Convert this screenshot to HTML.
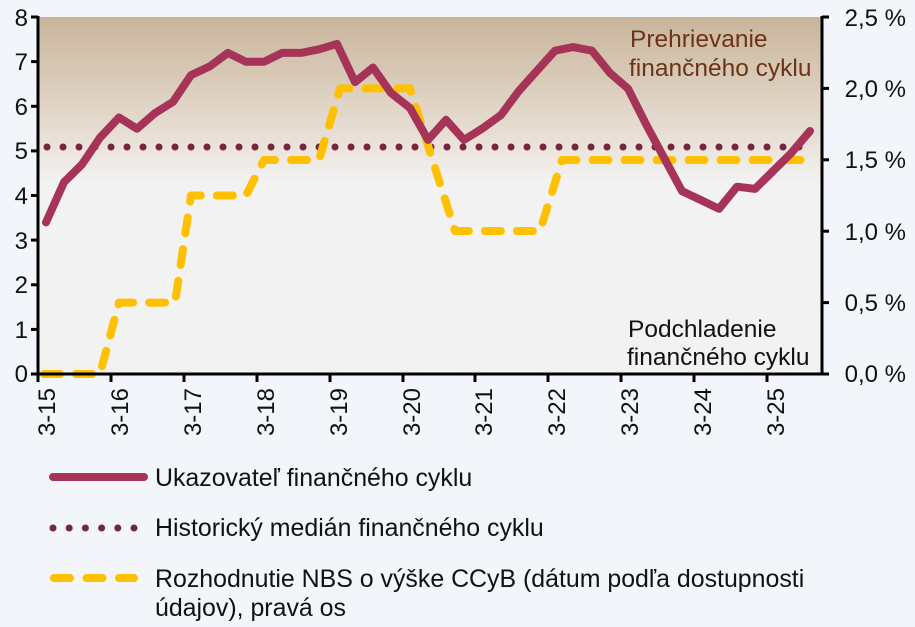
<!DOCTYPE html>
<html><head><meta charset="utf-8"><style>
html,body{margin:0;padding:0;background:#f2f6fa;}
svg{display:block;font-family:"Liberation Sans",Arial,sans-serif;}
</style></head><body>
<svg width="915" height="627" viewBox="0 0 915 627" xmlns="http://www.w3.org/2000/svg">
<defs>
<linearGradient id="bg" x1="0" y1="0" x2="0" y2="1">
<stop offset="0" stop-color="#c9b49a"/>
<stop offset="0.37" stop-color="#ebe4db"/>
<stop offset="0.46" stop-color="#f2f2f2"/>
<stop offset="1" stop-color="#f2f2f2"/>
</linearGradient>
</defs>
<rect x="38" y="17" width="784" height="357" fill="url(#bg)"/>
<line x1="47" y1="147" x2="815" y2="147" stroke="#77243e" stroke-width="7" stroke-linecap="round" stroke-dasharray="0 16"/>
<polyline fill="none" stroke="#ffc000" stroke-width="8" stroke-linecap="round" stroke-linejoin="round" stroke-dasharray="16 16"
points="44,374 100,374 119,302.6 175,302.6 191,195.5 246,195.5 264,160 319,160 340,88.4 410,88.4 455,231 540,231 562,160 813,160"/>
<polyline fill="none" stroke="#a63458" stroke-width="8" stroke-linejoin="round" stroke-linecap="round"
points="46,222.4 64,182.2 82,164.4 100,137.6 119,117.5 137,128.7 155,113.1 173,101.9 191,75.1 210,66.2 228,52.9 246,61.8 264,61.8 282,52.9 301,52.9 319,49.3 337,43.9 355,82.1 373,67.5 391,93 410,108 428,139.9 446,119.8 464,139.9 482,128.7 501,115 519,90.8 537,70.7 555,50.7 573,47.1 592,50.7 610,73 628,88.6 646,124.2 664,157.7 682,191.1 701,200.1 719,208.8 737,186.7 755,188.9 773,171.1 791,153.3 810,131"/>
<g stroke="#000" stroke-width="3" fill="none">
<line x1="38" y1="16" x2="38" y2="375"/>
<line x1="822" y1="16" x2="822" y2="375"/>
<line x1="31" y1="374" x2="829" y2="374"/>
<line x1="31" y1="17" x2="38" y2="17"/><line x1="31" y1="61.6" x2="38" y2="61.6"/><line x1="31" y1="106.3" x2="38" y2="106.3"/><line x1="31" y1="150.9" x2="38" y2="150.9"/><line x1="31" y1="195.5" x2="38" y2="195.5"/><line x1="31" y1="240.1" x2="38" y2="240.1"/><line x1="31" y1="284.8" x2="38" y2="284.8"/><line x1="31" y1="329.4" x2="38" y2="329.4"/>
<line x1="822" y1="17" x2="829" y2="17"/><line x1="822" y1="88.4" x2="829" y2="88.4"/><line x1="822" y1="159.8" x2="829" y2="159.8"/><line x1="822" y1="231.2" x2="829" y2="231.2"/><line x1="822" y1="302.6" x2="829" y2="302.6"/>
<line x1="38" y1="374" x2="38" y2="382"/><line x1="111" y1="374" x2="111" y2="382"/><line x1="184" y1="374" x2="184" y2="382"/><line x1="257" y1="374" x2="257" y2="382"/><line x1="330" y1="374" x2="330" y2="382"/><line x1="403" y1="374" x2="403" y2="382"/><line x1="475" y1="374" x2="475" y2="382"/><line x1="548" y1="374" x2="548" y2="382"/><line x1="621" y1="374" x2="621" y2="382"/><line x1="694" y1="374" x2="694" y2="382"/><line x1="767" y1="374" x2="767" y2="382"/>
</g>
<g font-size="24" fill="#111" text-anchor="end">
<text x="28" y="26">8</text><text x="28" y="70">7</text><text x="28" y="115">6</text><text x="28" y="159">5</text><text x="28" y="204">4</text><text x="28" y="249">3</text><text x="28" y="293">2</text><text x="28" y="338">1</text><text x="28" y="382">0</text>
</g>
<g font-size="24" fill="#111" text-anchor="end">
<text x="906" y="26">2,5 %</text><text x="906" y="97">2,0 %</text><text x="906" y="168">1,5 %</text><text x="906" y="240">1,0 %</text><text x="906" y="311">0,5 %</text><text x="906" y="382">0,0 %</text>
</g>
<g font-size="24" fill="#111" text-anchor="end">
<text transform="translate(55,388) rotate(-90)">3-15</text>
<text transform="translate(128,388) rotate(-90)">3-16</text>
<text transform="translate(201,388) rotate(-90)">3-17</text>
<text transform="translate(274,388) rotate(-90)">3-18</text>
<text transform="translate(347,388) rotate(-90)">3-19</text>
<text transform="translate(420,388) rotate(-90)">3-20</text>
<text transform="translate(492,388) rotate(-90)">3-21</text>
<text transform="translate(565,388) rotate(-90)">3-22</text>
<text transform="translate(638,388) rotate(-90)">3-23</text>
<text transform="translate(711,388) rotate(-90)">3-24</text>
<text transform="translate(784,388) rotate(-90)">3-25</text>
</g>
<g font-size="24.5" fill="#6b3418">
<text x="630" y="47">Prehrievanie</text>
<text x="629" y="76">finančného cyklu</text>
</g>
<g font-size="24.5" fill="#111">
<text x="628" y="337">Podchladenie</text>
<text x="627" y="365">finančného cyklu</text>
</g>
<line x1="53" y1="477" x2="144" y2="477" stroke="#a63458" stroke-width="8" stroke-linecap="round"/>
<line x1="53" y1="528" x2="136" y2="528" stroke="#77243e" stroke-width="7" stroke-linecap="round" stroke-dasharray="0 16.2"/>
<line x1="54" y1="578" x2="134" y2="578" stroke="#ffc000" stroke-width="8" stroke-linecap="round" stroke-dasharray="16 16.5"/>
<g font-size="24.9" fill="#111">
<text x="155" y="486">Ukazovateľ finančného cyklu</text>
<text x="155" y="536">Historický medián finančného cyklu</text>
<text x="155" y="587">Rozhodnutie NBS o výške CCyB (dátum podľa dostupnosti</text>
<text x="155" y="616">údajov), pravá os</text>
</g>
</svg>
</body></html>
